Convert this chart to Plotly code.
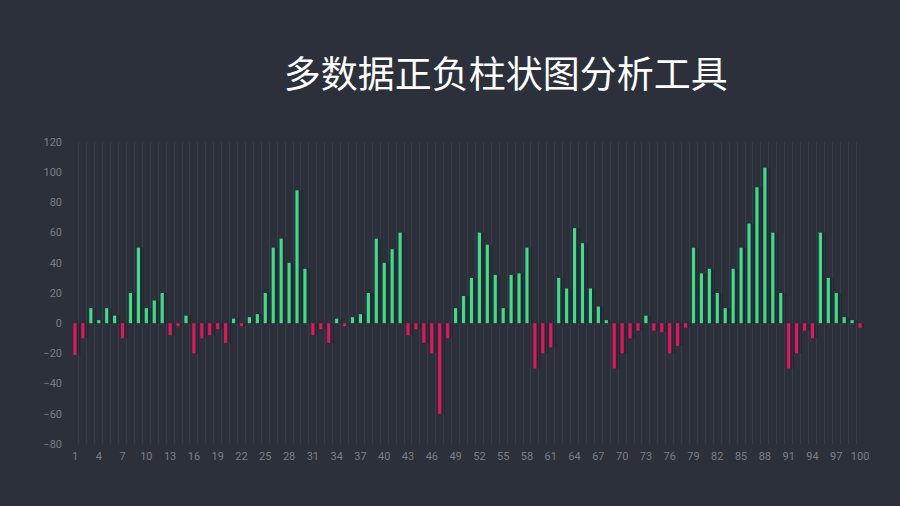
import plotly.graph_objects as go

# 数据
categories = list(range(1, 101))
values = [
    -21, -10, 10, 2, 10, 5, -10, 20, 50, 10,
    15, 20, -8, -2, 5, -20, -10, -8, -4, -13,
    3, -2, 4, 6, 20, 50, 56, 40, 88, 36,
    -8, -4, -13, 3, -2, 4, 6, 20, 56, 40,
    49, 60, -8, -4, -13, -20, -60, -10, 10, 18,
    30, 60, 52, 32, 10, 32, 33, 50, -30, -20,
    -16, 30, 23, 63, 53, 23, 11, 2, -30, -20,
    -10, -5, 5, -5, -6, -20, -15, -3, 50, 33,
    36, 20, 10, 36, 50, 66, 90, 103, 60, 20,
    -30, -20, -5, -10, 60, 30, 20, 4, 2, -3,
]
x_ticks = list(range(1, 101, 3))
y_ticks = list(range(-80, 121, 20))

green = '#3fdc8c'
pink = '#e3175f'
bg = '#2b303b'
colors = [green if v >= 0 else pink for v in values]

fig = go.Figure()

# 阴影
fig.add_trace(go.Bar(
    x=[c + 0.25 for c in categories], y=values, width=0.9,
    marker=dict(color='rgba(0,0,0,0.14)', line=dict(width=0)),
    hoverinfo='skip', showlegend=False,
))
fig.add_trace(go.Bar(
    x=categories, y=values, width=0.4,
    marker=dict(color=colors, line=dict(width=0)),
    showlegend=False,
))

fig.update_layout(
    width=900, height=506,
    paper_bgcolor=bg, plot_bgcolor=bg,
    barmode='overlay',
    margin=dict(l=71, r=36, t=142, b=62),
    font=dict(family='Roboto, Noto Sans CJK SC, sans-serif', color='#7a7f89', size=11),
    title=dict(text='多数据正负柱状图分析工具', x=0.562, xanchor='center',
               y=0.852, yanchor='middle',
               font=dict(size=37, color='#ffffff', family='Noto Sans CJK SC')),
    xaxis=dict(
        range=[0.5, 100.5], tickmode='array', tickvals=x_ticks,
        showgrid=False, zeroline=False, showline=False, ticks='',
        ticklabelstandoff=4,
        minor=dict(tick0=0.5, dtick=1, showgrid=True, gridcolor='rgba(255,255,255,0.06)', gridwidth=1),
    ),
    yaxis=dict(
        range=[-80, 120], tickmode='array', tickvals=y_ticks,
        showgrid=False, zeroline=False, showline=False, ticks='',
        ticklabelstandoff=8,
    ),
)

fig.write_html('out.html', config={'displayModeBar': False},
               post_script="document.body.style.margin='0';")
